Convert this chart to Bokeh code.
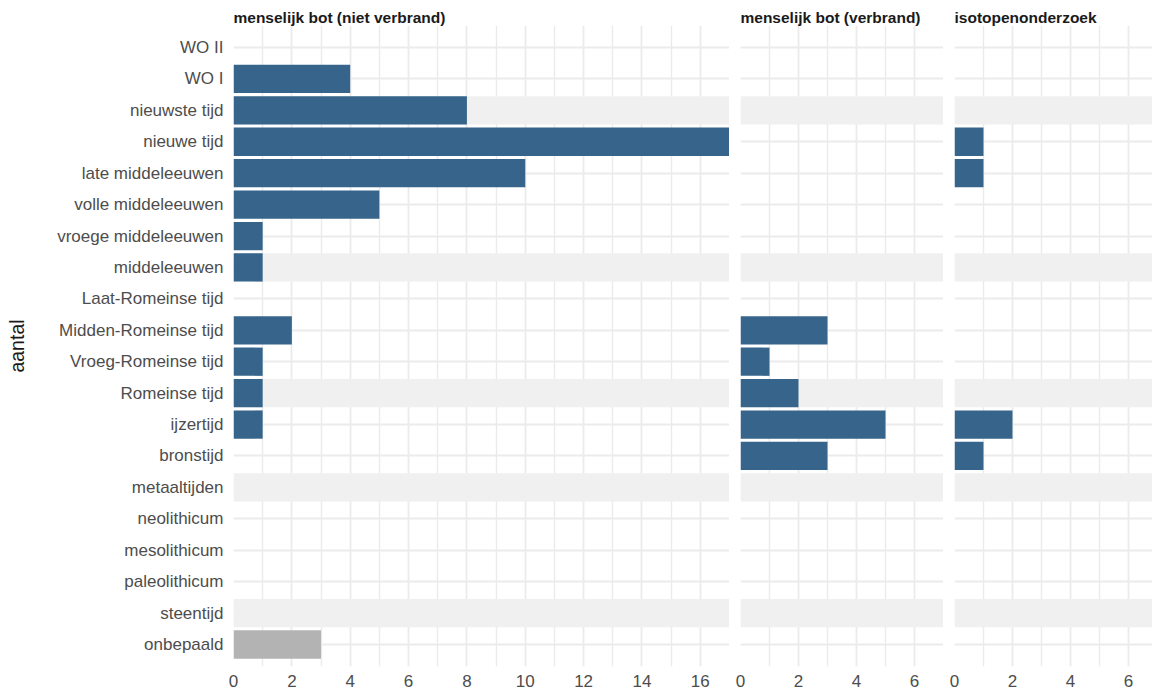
from bokeh.plotting import figure
from bokeh.layouts import row
from bokeh.models import FactorRange, Range1d, FixedTicker, ColumnDataSource
from bokeh.embed import file_html
from bokeh.resources import INLINE

periods = ["WO II", "WO I", "nieuwste tijd", "nieuwe tijd", "late middeleeuwen",
           "volle middeleeuwen", "vroege middeleeuwen", "middeleeuwen",
           "Laat-Romeinse tijd", "Midden-Romeinse tijd", "Vroeg-Romeinse tijd",
           "Romeinse tijd", "ijzertijd", "bronstijd", "metaaltijden", "neolithicum",
           "mesolithicum", "paleolithicum", "steentijd", "onbepaald"]

band_periods = ["nieuwste tijd", "middeleeuwen", "Romeinse tijd", "metaaltijden", "steentijd"]

panel_titles = ["menselijk bot (niet verbrand)", "menselijk bot (verbrand)", "isotopenonderzoek"]

niet_verbrand = [0, 4, 8, 17, 10, 5, 1, 1, 0, 2, 1, 1, 1, 0, 0, 0, 0, 0, 0, 3]
verbrand      = [0, 0, 0, 0, 0, 0, 0, 0, 0, 3, 1, 2, 5, 3, 0, 0, 0, 0, 0, 0]
isotopen      = [0, 0, 0, 1, 1, 0, 0, 0, 0, 0, 0, 0, 2, 1, 0, 0, 0, 0, 0, 0]

ticks_wide = [0, 2, 4, 6, 8, 10, 12, 14, 16]
minor_wide = [1, 3, 5, 7, 9, 11, 13, 15]
ticks_narrow = [0, 2, 4, 6]
minor_narrow = [1, 3, 5]

BLUE = "#36648B"
GREY = "#B3B3B3"
BAND = "#F0F0F0"
GRID = "#EBEBEB"
FONT = "Liberation Sans"

yr = FactorRange(factors=list(reversed(periods)), range_padding=0.2,
                 range_padding_units="absolute")

H = 693


def make_panel(title, values, xmax, ticks, minor, width, border_left, first):
    p = figure(y_range=yr, x_range=Range1d(0, xmax), width=width, height=H,
               output_backend="svg", toolbar_location=None,
               y_axis_location="left" if first else None,
               min_border_left=border_left, min_border_right=0,
               min_border_top=25, min_border_bottom=27)
    p.outline_line_color = None
    p.background_fill_color = "white"
    p.border_fill_color = "white"

    p.title.text = title
    p.title.align = "left"
    p.title.text_font = FONT
    p.title.text_font_style = "bold"
    p.title.text_font_size = "15.5px"
    p.title.text_color = "#1A1A1A"
    p.title.standoff = 0
    p.title.offset = 0

    # background bands
    bsrc = ColumnDataSource(dict(y=band_periods))
    p.hbar(y="y", left=0, right=xmax, height=0.9, source=bsrc,
           fill_color=BAND, line_color=None)

    ys, vs, cs = [], [], []
    for per, v in zip(periods, values):
        if v > 0:
            ys.append(per)
            vs.append(v)
            cs.append(GREY if per == "onbepaald" else BLUE)
    src = ColumnDataSource(dict(y=ys, v=vs, c=cs))
    p.hbar(y="y", left=0, right="v", height=0.9, source=src,
           fill_color="c", line_color=None)

    ax = p.xaxis[0]
    ax.ticker = FixedTicker(ticks=ticks, minor_ticks=minor)
    ax.axis_line_color = None
    ax.major_tick_line_color = None
    ax.minor_tick_line_color = None
    ax.major_tick_out = 0
    ax.minor_tick_out = 0
    ax.major_label_standoff = 8
    ax.major_label_text_font = FONT
    ax.major_label_text_font_size = "17px"
    ax.major_label_text_color = "#4D4D4D"

    p.xgrid.grid_line_color = GRID
    p.xgrid.grid_line_width = 1.8
    p.xgrid.minor_grid_line_color = GRID
    p.xgrid.minor_grid_line_width = 1.4
    p.ygrid.grid_line_color = GRID
    p.ygrid.grid_line_width = 1.8

    if first:
        yax = p.yaxis[0]
        yax.axis_line_color = None
        yax.major_tick_line_color = None
        yax.minor_tick_line_color = None
        yax.major_tick_out = 0
        yax.major_label_standoff = 10
        yax.major_label_text_font = FONT
        yax.major_label_text_font_size = "17px"
        yax.major_label_text_color = "#4D4D4D"
        yax.axis_label = "aantal"
        yax.axis_label_text_font = FONT
        yax.axis_label_text_font_size = "19.5px"
        yax.axis_label_text_font_style = "normal"
        yax.axis_label_text_color = "#1A1A1A"
        yax.axis_label_standoff = 26
    return p


p1 = make_panel(panel_titles[0], niet_verbrand, 17, ticks_wide, minor_wide, 729, 233, True)
p2 = make_panel(panel_titles[1], verbrand, 7, ticks_narrow, minor_narrow, 214, 11, False)
p3 = make_panel(panel_titles[2], isotopen, 6.83, ticks_narrow, minor_narrow, 209, 11, False)

layout = row(p1, p2, p3)
open("out.html", "w").write(file_html(layout, INLINE))
